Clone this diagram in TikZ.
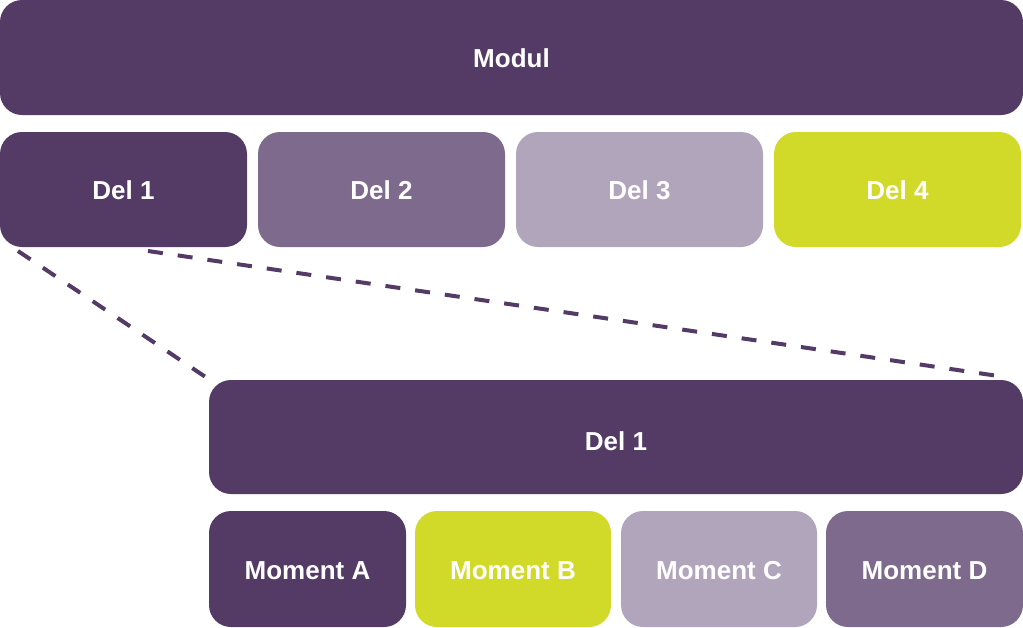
\documentclass[tikz,border=0pt]{standalone}
\usepackage{fontspec}
\setmainfont{Liberation Sans}
\begin{document}
\begin{tikzpicture}[x=1pt,y=-1pt,
  box/.style={rounded corners=22pt,draw=none},
  lbl/.style={text=white,font=\bfseries\fontsize{26}{30}\selectfont},
  conn/.style={draw=dark,line width=4pt,dash pattern=on 15pt off 15pt}]
\definecolor{dark}{HTML}{533B66}
\definecolor{mid}{HTML}{7E6A8C}
\definecolor{light}{HTML}{B1A5BB}
\definecolor{lime}{HTML}{D1DA29}
\useasboundingbox (0,0) rectangle (1023,627);
% top row
\fill[box,dark] (0,0) rectangle (1023,115);
\node[lbl] (modul) at (511.5,58) {Modul};
\fill[box,dark] (0,132) rectangle (247,247);
\node[lbl] (d1) at (123.5,190) {Del 1};
\fill[box,mid] (258,132) rectangle (505,247);
\node[lbl] (d2) at (381.5,190) {Del 2};
\fill[box,light] (516,132) rectangle (763,247);
\node[lbl] (d3) at (639.5,190) {Del 3};
\fill[box,lime] (774,132) rectangle (1021,247);
\node[lbl] (d4) at (897.5,190) {Del 4};
% zoom
\fill[box,dark] (209,380) rectangle (1023,494);
\node[lbl] (big) at (616,441) {Del 1};
\fill[box,dark] (209,511) rectangle (406,627);
\node[lbl] (ma) at (307.5,571) {Moment A};
\fill[box,lime] (415,511) rectangle (611,627);
\node[lbl] (mb) at (513,571) {Moment B};
\fill[box,light] (621,511) rectangle (817,627);
\node[lbl] (mc) at (719,571) {Moment C};
\fill[box,mid] (826,511) rectangle (1023,627);
\node[lbl] (md) at (924.5,571) {Moment D};
% connectors
\coordinate (a1) at (18,251);
\coordinate (a2) at (210,380);
\coordinate (b1) at (148,251);
\coordinate (b2) at (1005,377);
\draw[conn] (a1) -- (a2);
\draw[conn] (b1) -- (b2);
\end{tikzpicture}
\end{document}
